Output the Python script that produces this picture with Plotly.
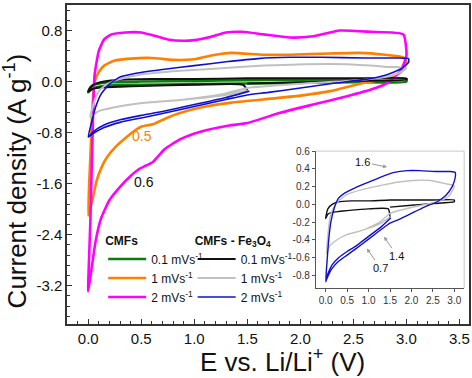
import plotly.graph_objects as go

# ---------------- data ----------------
# CMFs 2 mV/s (magenta)
cmf2_x = [0.00, 0.02, 0.04, 0.06, 0.10, 0.15, 0.22, 0.35, 0.50, 0.60, 0.75, 0.90, 1.00, 1.15, 1.30, 1.45,
          1.65, 1.90, 2.12, 2.37, 2.66, 2.97, 3.00, 2.94, 2.82, 2.66, 2.44, 2.12, 1.81, 1.50, 1.33, 1.05,
          0.86, 0.72, 0.61, 0.54, 0.48, 0.40, 0.30, 0.20, 0.12, 0.07, 0.03, 0.00]
cmf2_y = [-3.29, -2.20, -0.90, 0.10, 0.48, 0.66, 0.74, 0.77, 0.77, 0.73, 0.66, 0.64, 0.65, 0.70, 0.77, 0.78,
          0.74, 0.69, 0.71, 0.80, 0.78, 0.74, 0.40, 0.16, -0.02, -0.13, -0.23, -0.36, -0.49, -0.65, -0.69, -0.79,
          -0.91, -1.06, -1.26, -1.32, -1.37, -1.48, -1.65, -1.86, -2.15, -2.50, -2.95, -3.29]

# CMFs 1 mV/s (orange)
cmf1_x = [0.00, 0.02, 0.04, 0.06, 0.10, 0.15, 0.25, 0.40, 0.60, 0.80, 1.00, 1.20, 1.35, 1.65, 1.90, 2.28,
          2.55, 2.80, 2.97, 3.00, 2.95, 2.80, 2.60, 2.28, 2.00, 1.65, 1.35, 1.05, 0.85, 0.74, 0.61, 0.51,
          0.42, 0.34, 0.26, 0.18, 0.13, 0.08, 0.04, 0.00]
cmf1_y = [-2.10, -1.20, -0.40, 0.00, 0.15, 0.25, 0.33, 0.36, 0.37, 0.34, 0.35, 0.42, 0.45, 0.42, 0.42, 0.44,
          0.45, 0.42, 0.38, 0.30, 0.15, 0.04, -0.02, -0.15, -0.22, -0.28, -0.33, -0.41, -0.50, -0.57, -0.67, -0.70,
          -0.79, -0.90, -1.02, -1.18, -1.33, -1.55, -1.85, -2.10]

# CMFs 0.1 mV/s (green)
cmf01_x = [0.00, 0.02, 0.05, 0.10, 0.20, 0.50, 1.00, 1.50, 2.00, 2.50, 3.00, 3.00, 2.50, 2.00, 1.50, 1.00,
           0.50, 0.20, 0.10, 0.05, 0.02, 0.00]
cmf01_y = [-0.17, -0.09, -0.05, -0.03, -0.01, 0.00, 0.01, 0.02, 0.03, 0.035, 0.04, 0.00, -0.01, -0.02, -0.03, -0.04,
           -0.05, -0.06, -0.08, -0.10, -0.13, -0.17]

# CMFs-Fe3O4 0.1 mV/s (black)
fe01_x = [1.50, 1.46, 1.00, 0.50, 0.30, 0.15, 0.05, 0.00, 0.02, 0.05, 0.15, 0.30, 0.60, 1.00, 1.50, 2.00,
          2.50, 3.00, 3.00, 2.50, 2.00, 1.50]
fe01_y = [-0.14, -0.05, -0.05, -0.07, -0.08, -0.09, -0.11, -0.16, -0.10, -0.05, 0.00, 0.03, 0.04, 0.04, 0.05, 0.05,
          0.05, 0.05, 0.03, 0.01, -0.01, -0.03]

# CMFs-Fe3O4 1 mV/s (gray)
fe1_x = [1.50, 1.26, 0.87, 0.49, 0.26, 0.09, 0.02, 0.05, 0.10, 0.17, 0.26, 0.49, 0.87, 1.26, 1.66, 2.04,
         2.44, 2.83, 3.00, 2.97, 2.86, 2.60, 2.04, 1.50, 1.26, 0.87, 0.49, 0.26, 0.09, 0.02]
fe1_y = [-0.14, -0.22, -0.29, -0.34, -0.40, -0.47, -0.56, -0.35, -0.15, -0.05, 0.02, 0.11, 0.17, 0.21, 0.25, 0.27,
         0.27, 0.23, 0.21, 0.17, 0.09, 0.03, -0.03, -0.10, -0.20, -0.29, -0.34, -0.40, -0.47, -0.56]

# CMFs-Fe3O4 2 mV/s (blue)
fe2_x = [1.52, 1.30, 1.00, 0.70, 0.50, 0.30, 0.15, 0.05, 0.00, 0.03, 0.07, 0.12, 0.20, 0.30, 0.45, 0.70,
         1.00, 1.30, 1.60, 1.90, 2.20, 2.60, 2.90, 3.02, 3.02, 2.95, 2.80, 2.60, 2.30, 2.00, 1.70, 1.50,
         1.30, 1.00, 0.70, 0.50, 0.30, 0.15, 0.05, 0.00]
fe2_y = [-0.15, -0.25, -0.36, -0.47, -0.53, -0.60, -0.68, -0.78, -0.87, -0.65, -0.40, -0.20, -0.04, 0.07, 0.13, 0.19,
         0.25, 0.31, 0.36, 0.38, 0.38, 0.37, 0.37, 0.36, 0.30, 0.20, 0.10, 0.03, -0.03, -0.10, -0.17, -0.21,
         -0.28, -0.39, -0.50, -0.57, -0.64, -0.72, -0.81, -0.87]

legend_labels = ["0.1 mVs<sup>-1</sup>", "1 mVs<sup>-1</sup>", "2 mVs<sup>-1</sup>"]
x_ticks = [0.0, 0.5, 1.0, 1.5, 2.0, 2.5, 3.0, 3.5]
x_ticktext = ["0.0", "0.5", "1.0", "1.5", "2.0", "2.5", "3.0", "3.5"]
y_ticks = [0.8, 0.0, -0.8, -1.6, -2.4, -3.2]
y_ticktext = ["0.8", "0.0", "-0.8", "-1.6", "-2.4", "-3.2"]
inset_xticks = [0.0, 0.5, 1.0, 1.5, 2.0, 2.5, 3.0]
inset_xticktext = ["0.0", "0.5", "1.0", "1.5", "2.0", "2.5", "3.0"]
inset_yticks = [0.6, 0.4, 0.2, 0.0, -0.2, -0.4, -0.6, -0.8]
inset_yticktext = ["0.6", "0.4", "0.2", "0.0", "-0.2", "-0.4", "-0.6", "-0.8"]

# ---------------- styles ----------------
FONT = "Liberation Sans, Arial, sans-serif"
C_GREEN, C_ORANGE, C_MAG = "#0a7d0a", "#ff8000", "#ff00ff"
C_BLACK, C_GRAY, C_BLUE = "#111111", "#c0c0c0", "#1010cc"
SH = dict(shape="spline", smoothing=0.5)

fig = go.Figure()

cmf_series = [(cmf01_x, cmf01_y, C_GREEN, 2.5), (cmf1_x, cmf1_y, C_ORANGE, 2.6), (cmf2_x, cmf2_y, C_MAG, 2.6)]
fe_series = [(fe01_x, fe01_y, C_BLACK, 2.0), (fe1_x, fe1_y, C_GRAY, 2.0), (fe2_x, fe2_y, C_BLUE, 1.6)]

for (x, y, c, w), name in zip(cmf_series, legend_labels):
    fig.add_trace(go.Scatter(x=x, y=y, mode="lines", name=name, line=dict(color=c, width=w, **SH),
                             legend="legend"))
for (x, y, c, w), name in zip(fe_series, legend_labels):
    fig.add_trace(go.Scatter(x=x, y=y, mode="lines", name=name, line=dict(color=c, width=w, **SH),
                             legend="legend2"))
# inset
for (x, y, c, w) in fe_series:
    fig.add_trace(go.Scatter(x=x, y=y, mode="lines", showlegend=False, xaxis="x2", yaxis="y2",
                             line=dict(color=c, width=1.4, **SH)))

axis_common = dict(showline=True, linecolor="#333", linewidth=1.5, mirror=True, showgrid=False,
                   zeroline=False, ticks="inside", ticklen=5, tickcolor="#333", automargin=False,
                   tickfont=dict(family=FONT, size=15, color="#111"))

fig.update_layout(
    width=472, height=378,
    margin=dict(l=67, r=3, t=5, b=54),
    paper_bgcolor="white", plot_bgcolor="white",
    font=dict(family=FONT, color="#111"),
    xaxis=dict(range=[-0.2, 3.59], tickvals=x_ticks, ticktext=x_ticktext,
               minor=dict(dtick=0.1, tick0=0, ticks="inside", ticklen=3, tickcolor="#333"),
               **axis_common),
    yaxis=dict(range=[-3.8, 1.2], tickvals=y_ticks, ticktext=y_ticktext,
               minor=dict(dtick=0.16, tick0=0, ticks="inside", ticklen=3, tickcolor="#333"),
               **axis_common),
    xaxis2=dict(domain=[0.619, 0.988], anchor="y2", range=[-0.23, 3.23], tickvals=inset_xticks,
                ticktext=inset_xticktext, showline=True, linecolor="#555", linewidth=1, showgrid=False,
                zeroline=False, ticks="outside", ticklen=3, tickcolor="#555", automargin=False,
                tickfont=dict(family=FONT, size=10, color="#333")),
    yaxis2=dict(domain=[0.113, 0.542], anchor="x2", range=[-0.94, 0.6], tickvals=inset_yticks,
                ticktext=inset_yticktext, showline=True, linecolor="#555", linewidth=1, showgrid=False,
                zeroline=False, ticks="outside", ticklen=3, tickcolor="#555", automargin=False,
                tickfont=dict(family=FONT, size=10, color="#333")),
    legend=dict(title=dict(text="<b>CMFs</b>", font=dict(family=FONT, size=12)),
                x=0.09, y=0.298, xanchor="left", yanchor="top", bgcolor="rgba(0,0,0,0)",
                font=dict(family=FONT, size=12, color="#111"), tracegroupgap=0, itemwidth=38),
    legend2=dict(title=dict(text="<b>CMFs - Fe<sub>3</sub>O<sub>4</sub></b>", font=dict(family=FONT, size=12)),
                 x=0.3125, y=0.298, xanchor="left", yanchor="top", bgcolor="rgba(0,0,0,0)",
                 font=dict(family=FONT, size=12, color="#111"), tracegroupgap=0, itemwidth=38),
    shapes=[
        dict(type="line", xref="x2 domain", yref="y2 domain", x0=0, x1=1, y0=1, y1=1,
             line=dict(color="#c8c8c8", width=1)),
        dict(type="line", xref="x2 domain", yref="y2 domain", x0=1, x1=1, y0=0, y1=1,
             line=dict(color="#c8c8c8", width=1)),
    ],
    annotations=[
        # axis titles
        dict(x=-0.127, y=0.45, xref="paper", yref="paper", text="Current density (A g<sup>-1</sup>)",
             textangle=-90, showarrow=False, xanchor="center", yanchor="middle",
             font=dict(family=FONT, size=26, color="#111")),
        dict(x=0.537, y=-0.115, xref="paper", yref="paper", text="E vs. Li/Li<sup>+</sup> (V)",
             showarrow=False, xanchor="center", yanchor="middle",
             font=dict(family=FONT, size=26, color="#111")),
        # peak labels
        dict(x=0.51, y=-0.86, xref="x", yref="y", text="0.5", showarrow=False,
             font=dict(family=FONT, size=14, color=C_ORANGE)),
        dict(x=0.53, y=-1.57, xref="x", yref="y", text="0.6", showarrow=False,
             font=dict(family=FONT, size=14, color="#111")),
        dict(x=1.43, y=0.42, xref="x2", yref="y2", ax=0.87, ay=0.477, axref="x2", ayref="y2",
             text="1.6", showarrow=True, arrowhead=2, arrowsize=0.8, arrowwidth=1, arrowcolor="#999",
             font=dict(family=FONT, size=11, color="#111")),
        dict(x=1.36, y=-0.363, xref="x2", yref="y2", ax=1.66, ay=-0.576, axref="x2", ayref="y2",
             text="1.4", showarrow=True, arrowhead=2, arrowsize=0.8, arrowwidth=1, arrowcolor="#999",
             font=dict(family=FONT, size=11, color="#111")),
        dict(x=0.96, y=-0.497, xref="x2", yref="y2", ax=1.27, ay=-0.71, axref="x2", ayref="y2",
             text="0.7", showarrow=True, arrowhead=2, arrowsize=0.8, arrowwidth=1, arrowcolor="#999",
             font=dict(family=FONT, size=11, color="#111")),
    ],
)

fig.write_html("out.html", config={"displayModeBar": False},
               post_script="document.body.style.margin='0';document.body.style.padding='0';")
